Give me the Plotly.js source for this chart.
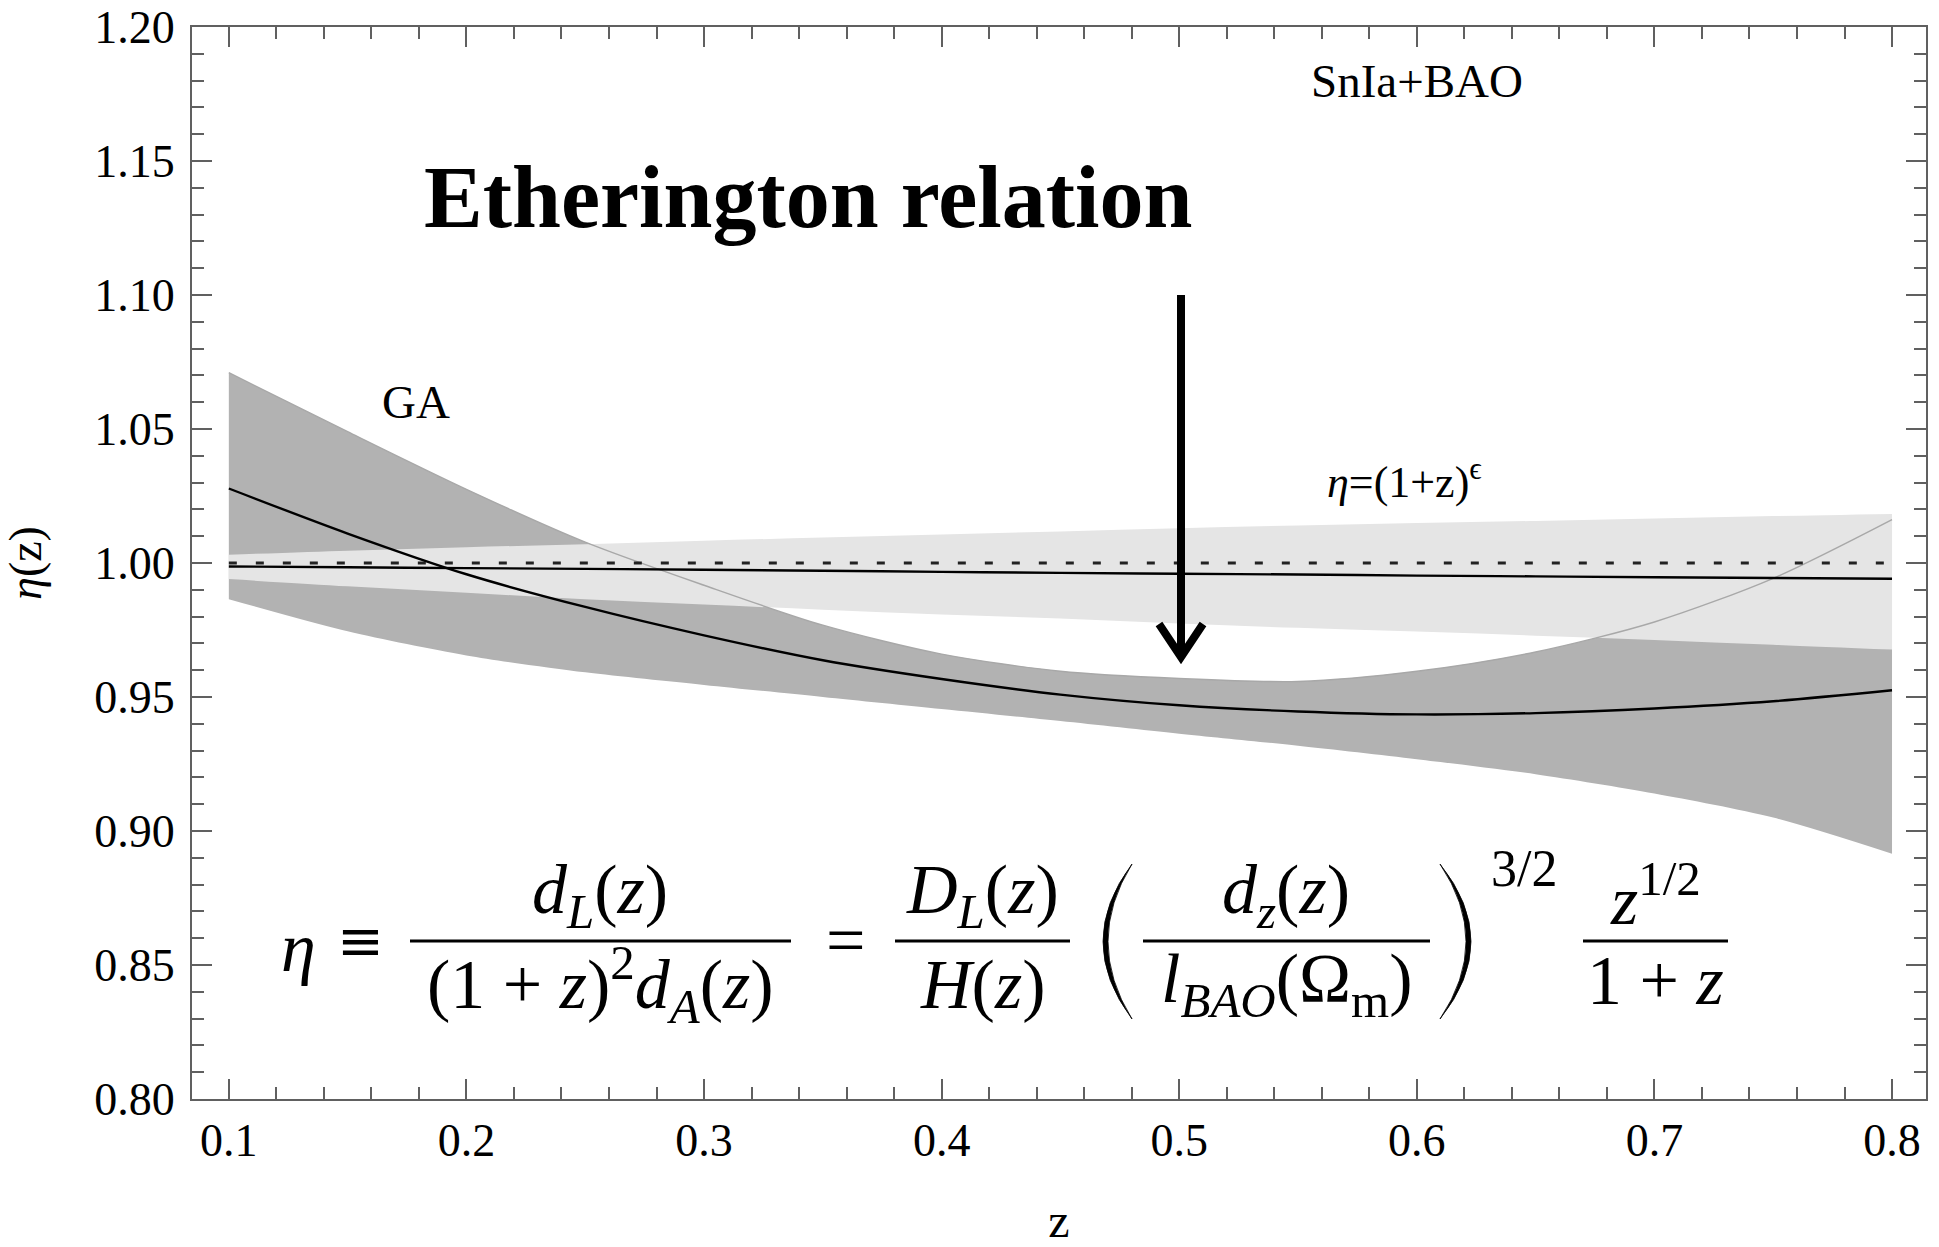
<!DOCTYPE html>
<html>
<head>
<meta charset="utf-8">
<script src="https://cdn.plot.ly/plotly-3.0.1.min.js"></script>
<style>html,body{margin:0;padding:0;background:#fff;}#chart{width:1939px;height:1247px;}</style>
</head>
<body>
<div id="chart"></div>
<script>
// ---- data ----
const z = [0.10,0.15,0.20,0.25,0.30,0.35,0.40,0.45,0.50,0.55,0.60,0.65,0.70,0.75,0.80];
const gaLower = [0.9865,0.9745,0.9655,0.9592,0.9545,0.9500,0.9455,0.9410,0.9363,0.9318,0.9268,0.9212,0.9140,0.9050,0.8915];
const gaUpper = [1.0710,1.0490,1.0275,1.0078,0.9917,0.9768,0.9660,0.9596,0.9569,0.9558,0.9596,0.9668,0.9780,0.9943,1.0162];
const gaMean  = [1.0278,1.0110,0.9958,0.9836,0.9730,0.9637,0.9567,0.9509,0.9469,0.9446,0.9435,0.9440,0.9457,0.9484,0.9525];
const epsLower = [0.9940,0.9913,0.9889,0.9865,0.9845,0.9826,0.9808,0.9793,0.9774,0.9758,0.9744,0.9729,0.9713,0.9695,0.9677];
const epsUpper = [1.0031,1.0046,1.0059,1.0070,1.0083,1.0095,1.0106,1.0118,1.0130,1.0140,1.0149,1.0157,1.0166,1.0175,1.0183];
const epsMean  = [0.9987,0.9984,0.9981,0.9978,0.9975,0.9971,0.9967,0.9963,0.9960,0.9957,0.9953,0.9950,0.9947,0.9944,0.99415];
const zRef = [0.10, 0.80];
const etaRef = [1.0, 1.0];
const xTicks = [0.1,0.2,0.3,0.4,0.5,0.6,0.7,0.8];
const yTicks = [0.80,0.85,0.90,0.95,1.00,1.05,1.10,1.15,1.20];

// ---- layout helpers (page pixels -> paper) ----
const W = 1939, H = 1247, ML = 192, MR = 13, MT = 27, MB = 148;
const PW = W - ML - MR, PH = H - MT - MB;
const px = X => (X - ML) / PW;
const py = Y => (H - MB - Y) / PH;
const FONT = 'Liberation Serif, Times New Roman, serif';

const DARK = '#b2b2b2', LIGHT = '#e5e5e5';

const traces = [
  {x: z, y: gaLower, mode: 'lines', line: {width: 0, shape: 'spline', smoothing: 0.8}, showlegend: false, hoverinfo: 'skip'},
  {x: z, y: gaUpper, mode: 'lines', fill: 'tonexty', fillcolor: DARK, line: {width: 0, shape: 'spline', smoothing: 0.8}, showlegend: false, hoverinfo: 'skip'},
  {x: z, y: epsLower, mode: 'lines', line: {width: 0, shape: 'spline'}, showlegend: false, hoverinfo: 'skip'},
  {x: z, y: epsUpper, mode: 'lines', fill: 'tonexty', fillcolor: LIGHT, line: {width: 0, shape: 'spline'}, showlegend: false, hoverinfo: 'skip'},
  {x: z, y: gaUpper, mode: 'lines', line: {width: 1.4, color: '#a8a8a8', shape: 'spline', smoothing: 0.8}, showlegend: false},
  {x: zRef, y: etaRef, mode: 'lines', line: {width: 3, color: '#222', dash: '8px,19px'}, showlegend: false},
  {x: z, y: epsMean, mode: 'lines', line: {width: 2.4, color: '#000', shape: 'spline'}, showlegend: false},
  {x: z, y: gaMean, mode: 'lines', line: {width: 2.4, color: '#000', shape: 'spline', smoothing: 0.8}, showlegend: false}
];

function ann(text, X, Y, size, opts, fam) {
  return Object.assign({xref: 'paper', yref: 'paper', x: px(X), y: py(Y), text: text, showarrow: false,
    xanchor: 'center', yanchor: 'middle', font: {family: fam || FONT, size: size, color: '#000'}}, opts || {});
}
const MF = 70; // formula font size
const annotations = [
  ann('<b>Etherington relation</b>', 808, 198, 88),
  ann('SnIa+BAO', 1417, 81, 47),
  ann('GA', 416, 402, 47),
  ann('<i>η</i>=(1+z)<sup>ϵ</sup>', 1325, 480, 44, {xanchor: 'left'}),
  ann('<i>η</i>', 298, 947, MF),
  ann('≡', 360, 940, 56, {}, 'DejaVu Serif, serif'),
  ann('<i>d</i><sub><i>L</i></sub>(<i>z</i>)', 600, 895, MF),
  ann('(1 + <i>z</i>)<sup>2</sup><i>d</i><sub><i>A</i></sub>(<i>z</i>)', 600, 984, MF),
  ann('=', 845, 940, MF),
  ann('<i>D</i><sub><i>L</i></sub>(<i>z</i>)', 982, 895, MF),
  ann('<i>H</i>(<i>z</i>)', 982, 984, MF),
  ann('<i>d</i><sub><i>z</i></sub>(<i>z</i>)', 1286, 895, MF),
  ann('<i>l</i><sub><i>BAO</i></sub>(Ω<sub>m</sub>)', 1286, 984, MF),
  ann('3/2', 1524, 868, 52),
  ann('<i>z</i><sup>1/2</sup>', 1655, 895, MF),
  ann('1 + <i>z</i>', 1655, 980, MF)
];

function hline(x0, x1, Y, w) {
  return {type: 'line', xref: 'paper', yref: 'paper', x0: px(x0), x1: px(x1), y0: py(Y), y1: py(Y), line: {color: '#000', width: w}};
}
function paren(xTip, xEnd, y0, y1) {
  // filled crescent: outer tip at xTip, ends at xEnd
  const ym = (y0 + y1) / 2;
  const d = xTip < xEnd ? 1 : -1;
  const cOut = xEnd + 2 * (xTip - xEnd);
  const cIn = xEnd + 2 * (xTip + d * 5 - xEnd);
  const path = `M ${px(xEnd)} ${py(y0)} Q ${px(cOut)} ${py(ym)} ${px(xEnd)} ${py(y1)} Q ${px(cIn)} ${py(ym)} ${px(xEnd)} ${py(y0)} Z`;
  return {type: 'path', xref: 'paper', yref: 'paper', path: path, fillcolor: '#000', line: {width: 0.8, color: '#000'}};
}
const shapes = [
  hline(410, 791, 941, 3),
  hline(895, 1070, 941, 3),
  hline(1143, 1430, 941, 3),
  hline(1583, 1728, 941, 3),
  paren(1103, 1132, 864, 1019),
  paren(1471, 1440, 864, 1019),
  // arrow
  {type: 'line', xref: 'paper', yref: 'paper', x0: px(1181), x1: px(1181), y0: py(295), y1: py(654), line: {color: '#000', width: 8}},
  {type: 'path', xref: 'paper', yref: 'paper', path: `M ${px(1159)} ${py(624)} L ${px(1181)} ${py(657)} L ${px(1203)} ${py(624)}`,
   fillcolor: 'rgba(0,0,0,0)', line: {color: '#000', width: 8}}
];

const axisCommon = {
  showgrid: false, zeroline: false, showline: true, linecolor: '#606060', linewidth: 2,
  mirror: 'ticks', ticks: 'inside', ticklen: 20, tickwidth: 2, tickcolor: '#606060',
  tickfont: {family: FONT, size: 46, color: '#000'}, automargin: false, ticklabeloverflow: 'allow'
};
const layout = {
  width: W, height: H,
  margin: {l: ML, r: MR, t: MT, b: MB, pad: 0},
  paper_bgcolor: '#fff', plot_bgcolor: '#fff',
  showlegend: false,
  xaxis: Object.assign({}, axisCommon, {
    range: [0.0845, 0.8143], tickvals: xTicks, tickformat: '.1f', ticklabelstandoff: 0,
    minor: {tick0: 0.1, dtick: 0.02, ticks: 'inside', ticklen: 12, tickwidth: 1.6, tickcolor: '#606060'},
    title: {text: 'z', font: {family: FONT, size: 48, color: '#000'}, standoff: 50}
  }),
  yaxis: Object.assign({}, axisCommon, {
    range: [0.8, 1.2], tickvals: yTicks, tickformat: '.2f', ticklabelstandoff: 6,
    minor: {tick0: 0.8, dtick: 0.01, ticks: 'inside', ticklen: 12, tickwidth: 1.6, tickcolor: '#606060'},
    title: {text: '<i>η</i>(z)', font: {family: FONT, size: 46, color: '#000'}, standoff: 38}
  }),
  annotations: annotations,
  shapes: shapes
};
Plotly.newPlot('chart', traces, layout, {displayModeBar: false});
</script>
</body>
</html>
